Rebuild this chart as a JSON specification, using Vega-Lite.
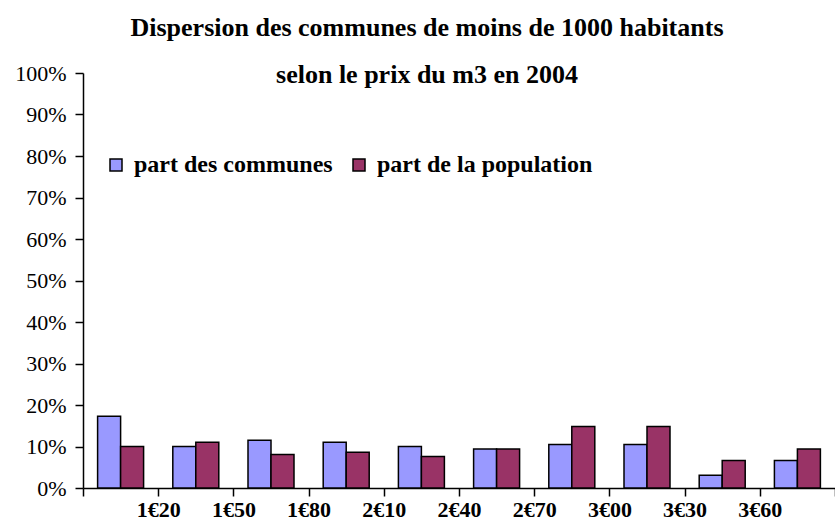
{
  "$schema": "https://vega.github.io/schema/vega-lite/v6.json",
  "autosize": {"type": "none"},
  "padding": {"left": 83, "top": 73, "right": 0, "bottom": 32},
  "width": 752,
  "height": 415,
  "background": "white",
  "title": {
    "text": ["Dispersion des communes de moins de 1000 habitants", "selon le prix du m3 en 2004"],
    "font": "Liberation Serif",
    "fontWeight": "bold",
    "fontSize": 26,
    "lineHeight": 47,
    "color": "black",
    "anchor": "middle",
    "frame": "group",
    "dx": -32,
    "offset": -26
  },
  "data": {
    "values": [
      {"tranche": "1€20", "serie": "part des communes", "valeur": 0.173},
      {"tranche": "1€20", "serie": "part de la population", "valeur": 0.100},
      {"tranche": "1€50", "serie": "part des communes", "valeur": 0.100},
      {"tranche": "1€50", "serie": "part de la population", "valeur": 0.110},
      {"tranche": "1€80", "serie": "part des communes", "valeur": 0.115},
      {"tranche": "1€80", "serie": "part de la population", "valeur": 0.081},
      {"tranche": "2€10", "serie": "part des communes", "valeur": 0.110},
      {"tranche": "2€10", "serie": "part de la population", "valeur": 0.086},
      {"tranche": "2€40", "serie": "part des communes", "valeur": 0.100},
      {"tranche": "2€40", "serie": "part de la population", "valeur": 0.076},
      {"tranche": "2€70", "serie": "part des communes", "valeur": 0.094},
      {"tranche": "2€70", "serie": "part de la population", "valeur": 0.094},
      {"tranche": "3€00", "serie": "part des communes", "valeur": 0.105},
      {"tranche": "3€00", "serie": "part de la population", "valeur": 0.148},
      {"tranche": "3€30", "serie": "part des communes", "valeur": 0.105},
      {"tranche": "3€30", "serie": "part de la population", "valeur": 0.148},
      {"tranche": "3€60", "serie": "part des communes", "valeur": 0.031},
      {"tranche": "3€60", "serie": "part de la population", "valeur": 0.066},
      {"tranche": "3€90", "serie": "part des communes", "valeur": 0.066},
      {"tranche": "3€90", "serie": "part de la population", "valeur": 0.094}
    ]
  },
  "mark": {"type": "bar", "stroke": "black", "strokeWidth": 1.5},
  "encoding": {
    "x": {
      "field": "tranche",
      "type": "nominal",
      "sort": null,
      "scale": {"paddingInner": 0, "paddingOuter": 0},
      "axis": {
        "title": null,
        "labelAngle": 0,
        "tickBand": "extent",
        "labelOffset": 37.6,
        "labelExpr": "datum.value == '3€90' ? '' : datum.value",
        "labelFont": "Liberation Serif",
        "labelFontWeight": "bold",
        "labelFontSize": 22,
        "labelColor": "black",
        "labelPadding": 3,
        "tickSize": 8,
        "tickColor": "black",
        "tickWidth": 1.5,
        "domainColor": "black",
        "domainWidth": 1.5,
        "grid": false
      }
    },
    "xOffset": {
      "field": "serie",
      "type": "nominal",
      "sort": ["part des communes", "part de la population"],
      "scale": {"paddingInner": 0, "paddingOuter": 0.635}
    },
    "y": {
      "field": "valeur",
      "type": "quantitative",
      "scale": {"domain": [0, 1], "nice": false},
      "axis": {
        "title": null,
        "values": [0, 0.1, 0.2, 0.3, 0.4, 0.5, 0.6, 0.7, 0.8, 0.9, 1],
        "format": ".0%",
        "labelFont": "Liberation Serif",
        "labelFontSize": 22,
        "labelColor": "black",
        "labelPadding": 9,
        "tickSize": 8,
        "tickColor": "black",
        "tickWidth": 1.5,
        "domainColor": "black",
        "domainWidth": 1.5,
        "grid": false
      }
    },
    "color": {
      "field": "serie",
      "type": "nominal",
      "sort": ["part des communes", "part de la population"],
      "scale": {"domain": ["part des communes", "part de la population"], "range": ["#9999FF", "#993366"]},
      "legend": {
        "title": null,
        "orient": "none",
        "legendX": 21,
        "legendY": 80,
        "direction": "horizontal",
        "symbolType": "square",
        "symbolSize": 144,
        "symbolStrokeColor": "black",
        "symbolStrokeWidth": 1.5,
        "labelFont": "Liberation Serif",
        "labelFontWeight": "bold",
        "labelFontSize": 24,
        "labelColor": "black",
        "labelOffset": 6,
        "columnPadding": 14,
        "labelLimit": 400
      }
    }
  },
  "config": {"view": {"stroke": null}}
}
